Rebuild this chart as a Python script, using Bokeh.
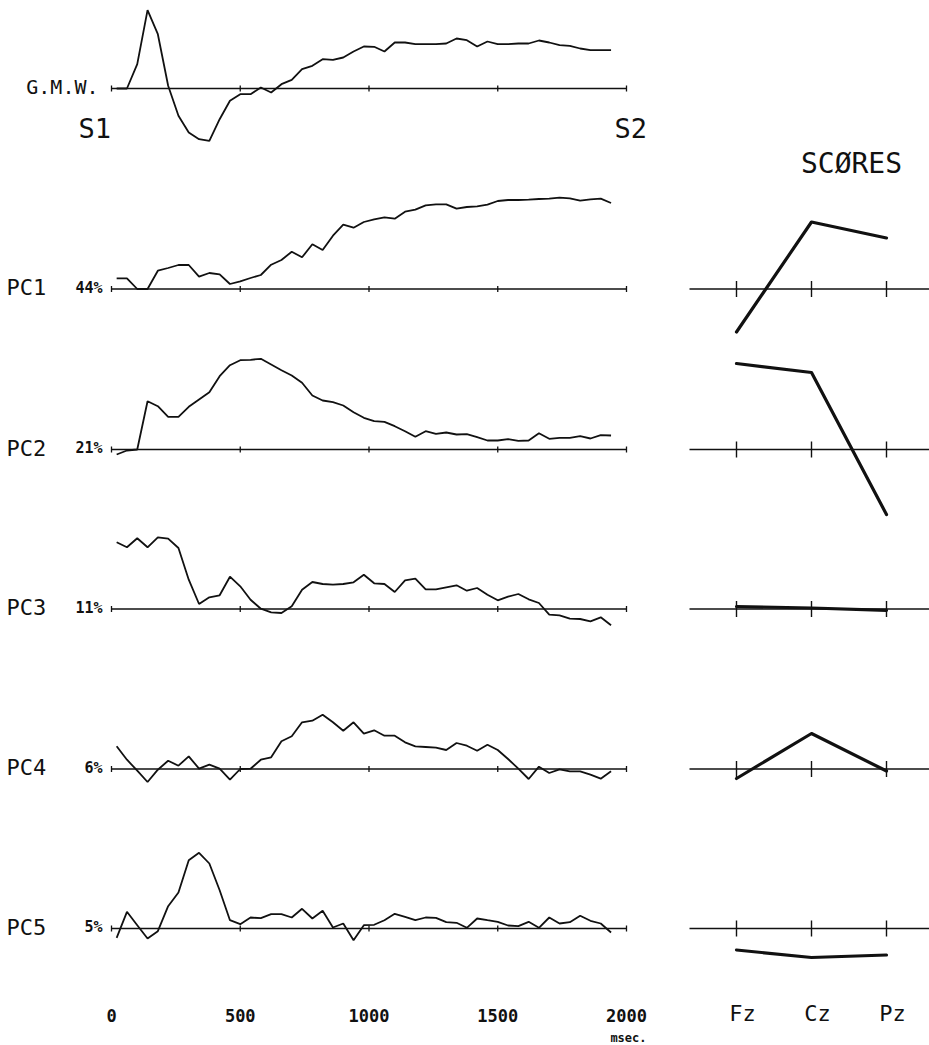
from bokeh.plotting import figure
from bokeh.layouts import column, row
from bokeh.core.properties import value
from bokeh.embed import file_html
from bokeh.resources import INLINE

# ---------------- data ----------------
TIME_MS = [20, 60, 100, 140, 180, 220, 260, 300, 340, 380, 420, 460, 500, 540, 580,
           620, 660, 700, 740, 780, 820, 860, 900, 940, 980, 1020, 1060, 1100, 1140,
           1180, 1220, 1260, 1300, 1340, 1380, 1420, 1460, 1500, 1540, 1580, 1620,
           1660, 1700, 1740, 1780, 1820, 1860, 1900, 1940]

GMW = [0, 0, 24.3, 78.3, 54.3, 2.7, -27.3, -44, -50.7, -52.3, -30.7, -12.3, -5.7, -5.7,
       1, -4, 4.3, 8.7, 19.3, 22.7, 29.3, 28.7, 31, 37, 42, 41.7, 37, 46, 46, 44.3, 44.3,
       44.3, 45, 50, 48.3, 42, 47, 44.3, 44.3, 45, 45, 48, 46, 43.3, 42.7, 40, 38.3, 38.3, 38.3]

PC1 = [10.7, 10.7, 0, 0, 18.3, 21, 24, 24, 12.3, 16, 14.7, 5, 7.7, 11, 14, 24.3, 29, 37.3,
       31.7, 44.7, 39, 53.3, 64.3, 61.3, 67, 69.7, 71.7, 70.3, 77.3, 79.3, 83.7, 84.7, 84.7,
       80.3, 82, 82.7, 84.3, 88, 89, 89, 89.3, 90, 90.3, 91.3, 90.7, 88.3, 89.7, 90.3, 86]
PC2 = [-5, -1, 0, 48.3, 43.3, 32.7, 32.7, 42.7, 50, 57.3, 73.3, 84.3, 89.3, 89.7, 90.7, 85,
       79.3, 74, 66.7, 54, 49, 47.3, 44, 37.3, 31.7, 28.3, 27.7, 23.3, 18.3, 12.7, 18.3,
       15.7, 17, 15, 15.3, 12.3, 9, 9, 10.3, 8.7, 9, 16.3, 10.7, 11.7, 11.7, 13.3, 11, 14.3, 14]
PC3 = [66.7, 61.7, 70.7, 61.7, 71.7, 70.3, 61, 29.3, 5, 11.7, 13.7, 32.3, 22.7, 9.3, 0.3,
       -3.3, -4, 2.7, 19.3, 27, 25, 24.3, 25, 26.7, 34.3, 25.7, 25, 17, 28.7, 30.3, 19.7,
       19.7, 21.7, 23.7, 18.3, 21, 14.3, 8.7, 12.3, 15, 9.7, 6, -5.7, -6.3, -9.7, -10,
       -12.3, -8.3, -16.3]
PC4 = [22.7, 9.3, -1.7, -13, -0.7, 8.3, 3.3, 12.7, 0.3, 4.3, 0.3, -10.7, 0, 0.3, 9.3, 11.7,
       27.7, 32.7, 46.7, 48.3, 54.3, 46.7, 38.3, 46.7, 35.3, 38.7, 33.3, 33.3, 26.7, 22.7,
       22, 21.3, 19, 26, 23.3, 18.3, 24.3, 19, 10, 0.3, -10, 2.3, -4, -0.3, -2.3, -2.3,
       -5.7, -9.7, -2.3]
PC5 = [-9.3, 16.7, 3.3, -10, -2.7, 22.3, 36, 68.3, 75.7, 65, 38.3, 8.3, 4.3, 11, 10.3,
       14.3, 14.3, 11, 19.7, 10, 17.7, 1, 5, -11.7, 3.3, 3.7, 8.3, 14.7, 11.7, 8.3, 11,
       10.7, 6.3, 5.7, 0.7, 10, 8.3, 6.7, 3, 2.3, 6.7, 0.7, 11, 5, 6.3, 12.7, 7.7, 5, -4]

PC_NAMES = ["PC1", "PC2", "PC3", "PC4", "PC5"]
PC_VARIANCE = ["44%", "21%", "11%", "6%", "5%"]
PC_WAVES = [PC1, PC2, PC3, PC4, PC5]

ELECTRODES = ["Fz", "Cz", "Pz"]
SCORES_PC1 = [-43, 67, 51]
SCORES_PC2 = [86, 77, -65]
SCORES_PC3 = [2.5, 1, -1.3]
SCORES_PC4 = [-9.5, 35.5, -2]
SCORES_PC5 = [-21.5, -29, -26.5]
PC_SCORES = [SCORES_PC1, SCORES_PC2, SCORES_PC3, SCORES_PC4, SCORES_PC5]

TIME_TICKS = [0, 500, 1000, 1500, 2000]
TIME_TICK_LABELS = ["0", "500", "1000", "1500", "2000"]

# ---------------- layout / style (page px, origin top-left) ----------------
LEFT_W, RIGHT_W = 668, 261
PX_PER_MS = 0.2575
ZERO_PX = 111                     # 0 ms
XL = (-ZERO_PX / PX_PER_MS, (LEFT_W - ZERO_PX) / PX_PER_MS)
EL_PX = 75                        # px between electrodes
FZ_PX = 736 - LEFT_W              # Fz, px from left edge of right figure
XR = (1 - FZ_PX / EL_PX, 1 + (RIGHT_W - FZ_PX) / EL_PX)
SC_AXIS_START = 1 - 47 / EL_PX


def ms(px):
    return (px - ZERO_PX) / PX_PER_MS


def el(px):
    return 1 + (px - 736) / EL_PX


# (top, bottom, baseline) in page px
ROWS = [(0, 195, 88), (195, 355, 288.5), (355, 525, 449),
        (525, 685, 608.5), (685, 845, 768.5), (845, 1044, 928)]

MONO = value("DejaVu Sans Mono")
INK = "#111111"


def make_fig(w, xr, top, bottom, base):
    p = figure(width=w, height=int(bottom - top), x_range=xr,
               y_range=(base - bottom, base - top), output_backend="svg",
               toolbar_location=None, min_border=0, x_axis_location=None,
               y_axis_location=None, outline_line_color=None)
    p.xgrid.visible = False
    p.ygrid.visible = False
    p.background_fill_color = "white"
    p.border_fill_color = "white"
    return p


def wave_axis(p):
    p.segment(x0=[TIME_TICKS[0]], y0=[0], x1=[TIME_TICKS[-1]], y1=[0],
              line_color=INK, line_width=1.5)
    p.segment(x0=TIME_TICKS, y0=[-3] * len(TIME_TICKS), x1=TIME_TICKS,
              y1=[3] * len(TIME_TICKS), line_color=INK, line_width=1.3)


ex = list(range(1, len(ELECTRODES) + 1))


def score_axis(p):
    p.segment(x0=[SC_AXIS_START], y0=[0], x1=[XR[1]], y1=[0], line_color=INK, line_width=1.5)
    p.segment(x0=ex, y0=[-8] * len(ex), x1=ex, y1=[8] * len(ex), line_color=INK, line_width=1.4)


rows = []

# --- G.M.W. row ---
top, bottom, base = ROWS[0]
pl = make_fig(LEFT_W, XL, top, bottom, base)
wave_axis(pl)
pl.line(TIME_MS, GMW, line_color=INK, line_width=1.8)
pl.text(x=[ms(98)], y=[2], text=["G.M.W."], text_font=MONO,
        text_font_size=value("20px"), text_align="right", text_baseline="alphabetic",
        text_color=INK)
pl.text(x=[ms(78), ms(614)], y=[-40, -40], text=["S1", "S2"],
        text_font=MONO, text_font_size=value("27px"), text_align="left",
        text_baseline="alphabetic", text_color=INK)
pr = make_fig(RIGHT_W, XR, top, bottom, base)
pr.text(x=[el(851)], y=[-75], text=["SCØRES"], text_font=MONO, text_font_size=value("28px"),
        text_align="center", text_baseline="middle", text_color=INK)
rows.append(row(pl, pr))

# --- PC rows ---
for k in range(5):
    top, bottom, base = ROWS[k + 1]
    pl = make_fig(LEFT_W, XL, top, bottom, base)
    wave_axis(pl)
    pl.line(TIME_MS, PC_WAVES[k], line_color=INK, line_width=1.8)
    pl.text(x=[ms(6)], y=[1.5], text=[PC_NAMES[k]], text_font=MONO,
            text_font_size=value("22px"), text_align="left", text_baseline="alphabetic",
            text_color=INK)
    pl.text(x=[ms(102)], y=[1.5], text=[PC_VARIANCE[k]], text_font=MONO,
            text_font_size=value("15px"), text_font_style="bold", text_align="right",
            text_baseline="alphabetic", text_color=INK)
    pr = make_fig(RIGHT_W, XR, top, bottom, base)
    score_axis(pr)
    pr.line(ex, PC_SCORES[k], line_color=INK, line_width=3.2, line_join="round",
            line_cap="round")
    if k == 4:
        pl.text(x=TIME_TICKS, y=[-87] * len(TIME_TICKS), text=TIME_TICK_LABELS,
                text_font=MONO, text_font_size=value("17px"), text_font_style="bold",
                text_align="center", text_baseline="alphabetic", text_color=INK)
        pl.text(x=[ms(646)], y=[-109], text=["msec."], text_font=MONO,
                text_font_size=value("12px"), text_font_style="bold", text_align="right",
                text_baseline="alphabetic", text_color=INK)
        pr.text(x=[e + 0.08 for e in ex], y=[-85] * len(ex), text=ELECTRODES,
                text_font=MONO, text_font_size=value("22px"), text_align="center",
                text_baseline="alphabetic", text_color=INK)
    rows.append(row(pl, pr))

layout = column(*rows)
open("out.html", "w").write(file_html(layout, INLINE))
